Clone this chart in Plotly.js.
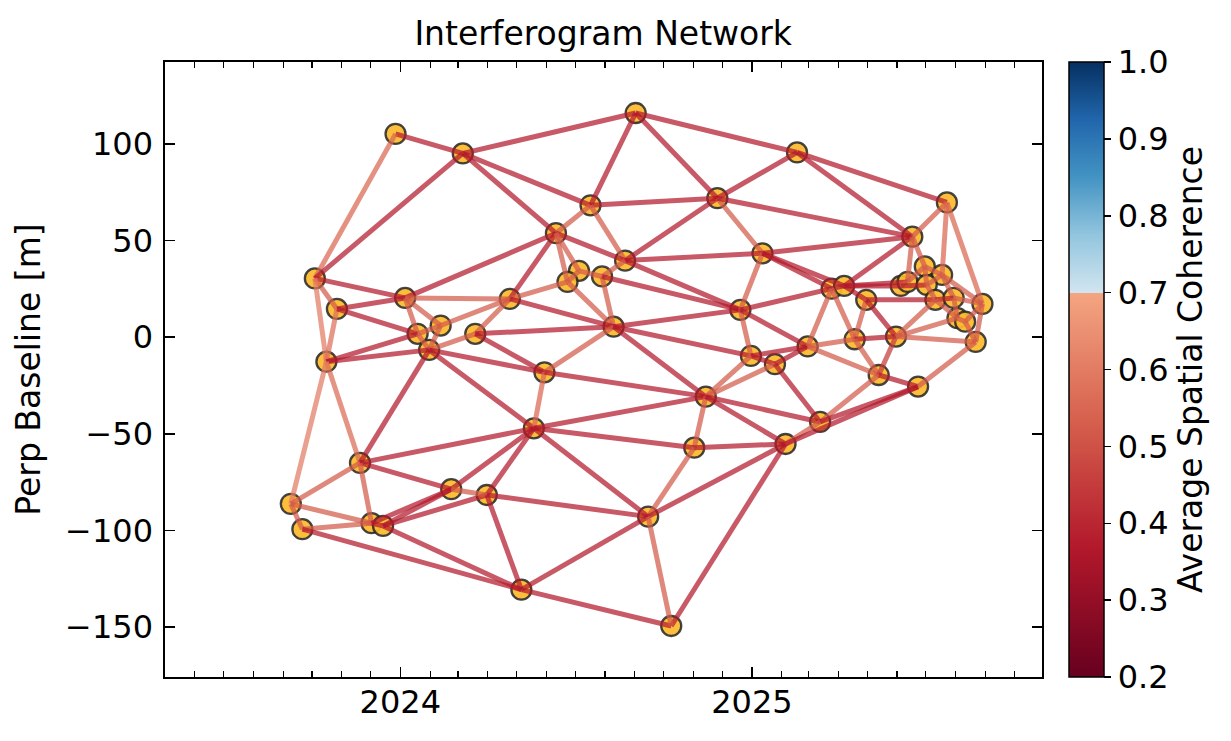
<!DOCTYPE html>
<html><head><meta charset="utf-8">
<script src="https://cdn.plot.ly/plotly-3.0.1.min.js"></script>
<style>html,body{margin:0;padding:0;background:#fff}#chart{width:1231px;height:741px}</style>
</head><body><div id="chart"></div>
<script>
// Acquisition dates and perpendicular baselines (m)
const acqDates = [
 '2023-12-27','2024-03-06','2024-09-02','2025-02-17','2025-07-23','2024-11-26','2024-07-17','2024-06-11',
 '2025-06-17','2025-01-12','2024-08-22','2023-10-04','2024-07-05','2024-06-23','2024-07-29','2023-10-27',
 '2024-01-06','2024-04-24','2024-02-12','2024-01-19','2024-03-19','2024-08-10','2024-12-20','2023-10-16',
 '2024-01-31','2024-05-30','2024-12-31','2025-01-25','2025-02-28','2024-11-14','2024-05-19','2024-11-02',
 '2025-02-05','2025-03-13','2023-11-20','2024-02-23','2024-03-31','2023-09-09','2023-09-21','2023-12-02',
 '2023-12-14','2024-09-15','2024-05-06','2024-10-09','2025-03-25','2025-04-07','2025-04-30','2025-04-18',
 '2025-05-13','2025-05-31','2025-06-23','2025-06-05','2025-06-12','2025-06-30','2025-07-18','2025-07-02',
 '2025-07-11','2025-07-30','2025-08-29','2025-08-03','2025-08-11','2025-08-22'
];
const perpBaseline = [
 105.2, 95.1, 116.0, 95.6, 69.7, 71.9, 68.2, 53.8,
 52.0, 43.4, 39.6, 30.4, 34.3, 28.6, 31.4, 14.6,
 20.3, 19.8, 6.0, 1.7, 1.7, 5.4, 14.1, -12.7,
 -6.6, -18.2, -9.7, -14.0, -4.8, -30.8, -47.2, -57.2,
 -55.3, -43.9, -65.1, -78.7, -81.7, -86.3, -99.4, -96.3,
 -97.7, -92.9, -130.7, -149.5, 25.1, 26.5, 19.3, -1.1,
 -19.6, 0.3, -25.6, 26.5, 28.6, 36.6, 32.2, 27.0,
 19.3, 20.3, 17.2, 9.8, 8.0, -2.5
];
// Interferogram pairs (indices into acquisitions) and average spatial coherence
const ifgRef = [0,0,1,1,1,1,2,2,2,3,3,3,5,5,5,5,6,6,7,7,7,7,7,10,10,10,12,12,13,13,14,14,11,11,11,15,15,15,16,16,16,17,17,17,18,18,19,19,23,23,23,24,24,24,24,20,20,21,21,21,21,25,25,22,22,22,22,9,9,9,8,8,8,8,4,4,26,26,26,27,27,27,28,28,28,29,29,29,29,30,30,30,30,30,31,31,32,32,32,32,33,33,34,34,34,37,37,38,38,39,39,40,40,40,35,36,36,42,42,41,44,45,45,44,45,46,46,46,47,47,48,48,50,49,49,49,51,51,52,53,53,54,54,55,56,56,57,57,59,60,58,60,54];
const ifgSec = [1,11,11,2,6,7,6,5,3,5,4,8,6,10,9,8,7,10,10,16,17,13,12,9,22,14,13,14,17,21,21,22,16,15,23,16,23,19,17,19,18,18,20,21,19,24,23,24,24,34,37,20,25,30,34,21,25,25,22,29,26,30,29,9,26,28,44,8,44,45,4,45,52,53,54,58,27,28,29,28,29,33,44,47,48,30,31,32,33,34,35,36,31,41,41,32,41,43,33,50,48,50,35,37,39,39,38,39,42,40,35,35,36,42,36,42,41,41,43,43,45,51,52,47,46,47,56,49,49,48,49,50,61,59,61,56,52,55,53,54,55,55,57,56,57,59,59,58,60,58,61,61,58];
const ifgCoherence = [0.37,0.55,0.37,0.37,0.37,0.37,0.37,0.37,0.37,0.37,0.37,0.37,0.37,0.37,0.52,0.37,0.52,0.52,0.37,0.37,0.37,0.52,0.52,0.37,0.37,0.52,0.52,0.52,0.52,0.52,0.52,0.37,0.37,0.52,0.6,0.37,0.57,0.37,0.52,0.52,0.52,0.52,0.52,0.37,0.52,0.52,0.37,0.52,0.37,0.56,0.6,0.52,0.37,0.37,0.37,0.37,0.37,0.52,0.37,0.37,0.37,0.55,0.37,0.52,0.52,0.37,0.37,0.37,0.37,0.37,0.52,0.37,0.52,0.52,0.55,0.55,0.37,0.37,0.52,0.37,0.52,0.37,0.52,0.52,0.52,0.37,0.52,0.37,0.37,0.37,0.37,0.37,0.37,0.37,0.52,0.37,0.37,0.37,0.52,0.37,0.52,0.37,0.37,0.52,0.52,0.52,0.52,0.52,0.37,0.37,0.37,0.37,0.37,0.37,0.52,0.37,0.37,0.37,0.37,0.52,0.37,0.37,0.37,0.52,0.37,0.52,0.37,0.37,0.37,0.52,0.45,0.37,0.52,0.52,0.52,0.52,0.52,0.37,0.52,0.52,0.52,0.52,0.52,0.52,0.37,0.52,0.52,0.52,0.52,0.52,0.52,0.52,0.52];

const cohColorscale = [[0,'#67001f'],[0.2083,'#b2182b'],[0.4167,'#d6604d'],[0.625,'#f4a582'],
  [0.6251,'#d1e5f0'],[0.71875,'#92c5de'],[0.8125,'#4393c3'],[0.90625,'#2166ac'],[1,'#053061']];
const cmin = 0.2, cmax = 1.0;
function hexRgb(h){return [parseInt(h.slice(1,3),16),parseInt(h.slice(3,5),16),parseInt(h.slice(5,7),16)];}
function cohColor(v, a){
  let t = (v-cmin)/(cmax-cmin); t = Math.max(0, Math.min(1, t));
  for (let i=1;i<cohColorscale.length;i++){
    const [p1,c1]=cohColorscale[i]; const [p0,c0]=cohColorscale[i-1];
    if (t<=p1){ const f=(t-p0)/(p1-p0||1); const a0=hexRgb(c0), b0=hexRgb(c1);
      const c=a0.map((x,k)=>Math.round(x+(b0[k]-x)*f)); return `rgba(${c[0]},${c[1]},${c[2]},${a})`; }
  }
  return cohColorscale[cohColorscale.length-1][1];
}

const traces = [];
traces.push({type:'scatter', mode:'markers', x:acqDates, y:perpBaseline, hoverinfo:'skip', showlegend:false,
  marker:{size:20, color:'rgba(252,186,45,0.92)', line:{color:'rgba(35,35,35,0.85)', width:2.3}}});
for (let i=0;i<ifgRef.length;i++){
  traces.push({type:'scatter', mode:'lines', hoverinfo:'skip', showlegend:false,
    x:[acqDates[ifgRef[i]], acqDates[ifgSec[i]]], y:[perpBaseline[ifgRef[i]], perpBaseline[ifgSec[i]]],
    line:{color:cohColor(ifgCoherence[i],0.72), width:5}});
}
traces.push({type:'scatter', mode:'markers', x:[acqDates[0]], y:[perpBaseline[0]], hoverinfo:'skip', showlegend:false,
  marker:{size:1, opacity:0, color:[0.5], cmin:cmin, cmax:cmax, colorscale:cohColorscale, showscale:true,
    colorbar:{x:1.0308, xanchor:'left', xref:'paper', y:0.5, yanchor:'middle', len:1, lenmode:'fraction',
      thickness:35, xpad:0, ypad:0, outlinewidth:1.5, outlinecolor:'#000',
      ticks:'outside', ticklen:7, tickwidth:1.5, tickcolor:'#000',
      tickvals:[0.2,0.3,0.4,0.5,0.6,0.7,0.8,0.9,1.0], tickformat:'.1f',
      tickfont:{family:'DejaVu Sans', size:32, color:'#000'},
      title:{text:'Average Spatial Coherence', side:'right', font:{family:'DejaVu Sans', size:33, color:'#000'}}}}});

const axisCommon = {showline:true, linecolor:'#000', linewidth:1.6, mirror:'allticks', ticks:'inside',
  ticklen:10, tickwidth:1.6, tickcolor:'#000', showgrid:false, zeroline:false,
  tickfont:{family:'DejaVu Sans', size:32, color:'#000'}};
const layout = {
  width:1231, height:741, margin:{l:165, r:189, t:62, b:64}, paper_bgcolor:'#fff', plot_bgcolor:'#fff',
  showlegend:false, font:{family:'DejaVu Sans', color:'#000'},
  title:{text:'Interferogram Network', font:{family:'DejaVu Sans', size:33, color:'#000'},
    x:0.49, xanchor:'center', y:0.955, yanchor:'middle'},
  xaxis:Object.assign({}, axisCommon, {type:'date', range:['2023-05-01','2025-10-30'],
    dtick:'M12', tick0:'2024-01-01', tickformat:'%Y', ticklabelstandoff:-4,
    minor:{ticks:'inside', ticklen:6, tickwidth:1.2, tickcolor:'#000', dtick:'M1', tick0:'2024-01-01'}}),
  yaxis:Object.assign({}, axisCommon, {range:[-175.9,142.4], dtick:50, tick0:0, ticklabelstandoff:4,
    title:{text:'Perp Baseline [m]', font:{family:'DejaVu Sans', size:33, color:'#000'}, standoff:14}})
};
Plotly.newPlot('chart', traces, layout, {displayModeBar:false, staticPlot:true});
</script></body></html>
